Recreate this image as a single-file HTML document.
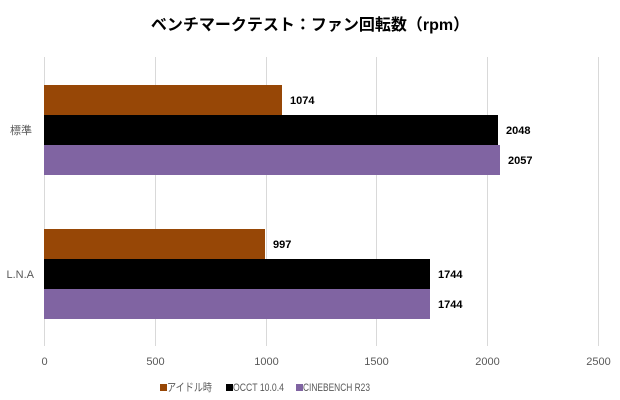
<!DOCTYPE html>
<html><head><meta charset="utf-8"><style>
html,body{margin:0;padding:0;background:#fff;}
svg{display:block;font-family:"Liberation Sans","Noto Sans CJK JP",sans-serif;}
</style></head><body>
<svg width="620" height="400" viewBox="0 0 620 400" xmlns="http://www.w3.org/2000/svg">
<rect width="620" height="400" fill="#fff"/>
<text x="310" y="30" text-anchor="middle" font-size="16" font-weight="bold" fill="#000">ベンチマークテスト：ファン回転数（rpm）</text>
<g stroke="#d9d9d9" stroke-width="1">
<line x1="44.5" y1="57" x2="44.5" y2="346"/>
<line x1="155.5" y1="57" x2="155.5" y2="346"/>
<line x1="266.5" y1="57" x2="266.5" y2="346"/>
<line x1="376.5" y1="57" x2="376.5" y2="346"/>
<line x1="487.5" y1="57" x2="487.5" y2="346"/>
<line x1="598.5" y1="57" x2="598.5" y2="346"/>
</g>
<rect x="44" y="85" width="238" height="30" fill="#974706"/>
<rect x="44" y="115" width="454" height="30" fill="#000"/>
<rect x="44" y="145" width="456" height="30" fill="#8064A2"/>
<rect x="44" y="229" width="221" height="30" fill="#974706"/>
<rect x="44" y="259" width="386" height="30" fill="#000"/>
<rect x="44" y="289" width="386" height="30" fill="#8064A2"/>
<g font-size="11" font-weight="bold" fill="#000">
<text x="290" y="104">1074</text>
<text x="506" y="134">2048</text>
<text x="508" y="164">2057</text>
<text x="273" y="248">997</text>
<text x="438" y="278">1744</text>
<text x="438" y="308">1744</text>
</g>
<g font-size="11" fill="#595959">
<text x="32" y="134" text-anchor="end">標準</text>
<text x="34" y="278" text-anchor="end">L.N.A</text>
</g>
<g font-size="11" fill="#595959" text-anchor="middle">
<text x="44.5" y="365">0</text>
<text x="155.5" y="365">500</text>
<text x="266.5" y="365">1000</text>
<text x="376.5" y="365">1500</text>
<text x="487.5" y="365">2000</text>
<text x="598.5" y="365">2500</text>
</g>
<g font-size="11" fill="#595959">
<rect x="160" y="384" width="7" height="7" fill="#974706"/>
<text x="167" y="391" textLength="45" lengthAdjust="spacingAndGlyphs">アイドル時</text>
<rect x="226" y="384" width="7" height="7" fill="#000"/>
<text x="233" y="391" textLength="51" lengthAdjust="spacingAndGlyphs">OCCT 10.0.4</text>
<rect x="296" y="384" width="7" height="7" fill="#8064A2"/>
<text x="303" y="391" textLength="67" lengthAdjust="spacingAndGlyphs">CINEBENCH R23</text>
</g>
</svg>
</body></html>
